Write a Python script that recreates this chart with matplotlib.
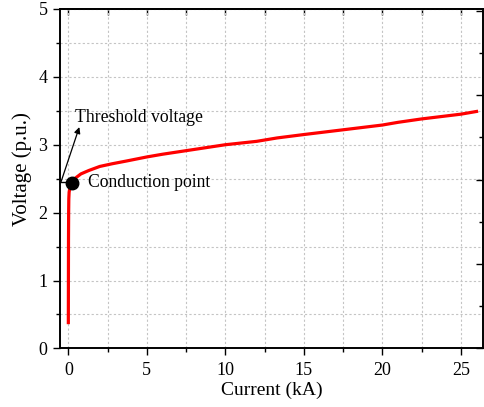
import matplotlib
matplotlib.use("Agg")
import matplotlib.pyplot as plt
from matplotlib.ticker import MultipleLocator, NullFormatter

plt.rcParams['font.family'] = ['Liberation Serif', 'DejaVu Serif']
plt.rcParams['mathtext.fontset'] = 'stix'

current = [0.0, 0.005, 0.01, 0.02, 0.03, 0.05, 0.1, 0.2, 0.4, 0.8, 1.3, 2.0, 2.8, 3.7,
           5.0, 6.0, 8.0, 10.0, 12.0, 13.3, 15.0, 17.5, 20.0, 21.0, 22.5, 25.0, 26.0]
voltage = [0.38, 1.0, 1.6, 2.0, 2.2, 2.3, 2.37, 2.43, 2.5, 2.57, 2.62, 2.68, 2.72, 2.76,
           2.82, 2.86, 2.93, 3.0, 3.05, 3.10, 3.15, 3.22, 3.29, 3.33, 3.38, 3.45, 3.49]
conduction_point = (0.22, 2.43)
threshold_level = 2.45
xlabel = "Current (kA)"
ylabel = "Voltage (p.u.)"

fig = plt.figure(figsize=(4.84, 4.07), dpi=100)
ax = fig.add_axes([0.124, 0.144, 0.8745, 0.834])

ax.set_xlim(-0.53, 26.43)
ax.set_ylim(0, 5)
ax.xaxis.set_major_locator(MultipleLocator(5))
ax.xaxis.set_minor_locator(MultipleLocator(2.5))
ax.yaxis.set_major_locator(MultipleLocator(1))
ax.yaxis.set_minor_locator(MultipleLocator(0.5))

ax.grid(True, which='both', color='#c4c4c4', linestyle=(0, (2, 2)), linewidth=0.8)
ax.set_axisbelow(True)

ax.plot(current, voltage, color='#ff0000', linewidth=2.3, zorder=3)
ax.plot([conduction_point[0]], [conduction_point[1]], 'o', color='black',
        markersize=9, zorder=4)

# horizontal marker line from axis to conduction point
ax.plot([-0.53, conduction_point[0]], [threshold_level, threshold_level],
        color='black', linewidth=1.0, zorder=3, clip_on=False)
ax.annotate('', xy=(0.7, 3.26), xytext=(-0.47, threshold_level),
            arrowprops=dict(arrowstyle='-|>', color='black', lw=0.9,
                            mutation_scale=9, shrinkA=0, shrinkB=0), zorder=5)
ax.text(0.42, 3.40, "Threshold voltage", fontsize=12.7, va='center', ha='left')
ax.text(1.27, 2.44, "Conduction point", fontsize=12.7, va='center', ha='left')

ax.set_xlabel(xlabel, fontsize=14, labelpad=2)
ax.set_ylabel(ylabel, fontsize=15)
ax.yaxis.set_label_coords(-0.066, 0.528)

ax.tick_params(which='major', direction='out', length=5, width=1.0, labelsize=13,
               top=False, right=False)
ax.tick_params(axis='x', which='major', pad=5)
ax.tick_params(axis='y', which='major', pad=4)
ax.tick_params(which='minor', direction='out', length=3, width=1.0,
               top=False, right=False)
for s in ax.spines.values():
    s.set_linewidth(1.2)

# top axis ticks (inward)
axt = ax.secondary_xaxis('top')
axt.xaxis.set_major_locator(MultipleLocator(2.5))
axt.xaxis.set_major_formatter(NullFormatter())
axt.tick_params(which='major', direction='in', length=4, width=1.0)
axt.spines['top'].set_linewidth(1.2)

# right axis ticks (inward, separate scale, no labels)
axr = ax.twinx()
axr.set_ylim(0, 4.02)
axr.yaxis.set_major_locator(MultipleLocator(1))
axr.yaxis.set_minor_locator(MultipleLocator(0.5))
axr.yaxis.set_major_formatter(NullFormatter())
axr.tick_params(which='major', direction='in', length=5, width=1.0)
axr.tick_params(which='minor', direction='in', length=3, width=1.0)
for s in axr.spines.values():
    s.set_linewidth(1.2)

fig.savefig("out.png", dpi=100)
